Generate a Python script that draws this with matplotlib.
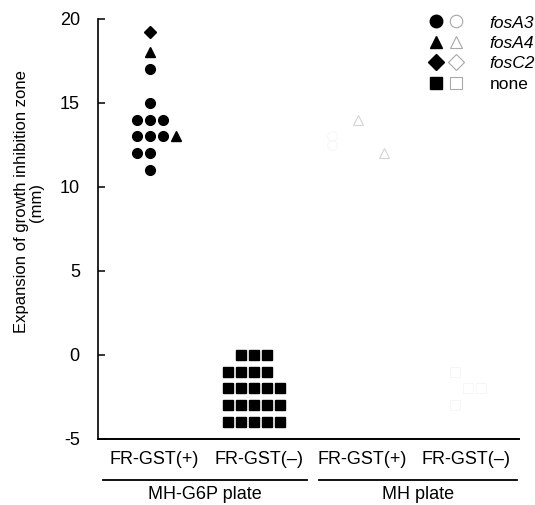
import matplotlib
matplotlib.use("Agg")
import matplotlib.pyplot as plt
from matplotlib.lines import Line2D
from matplotlib.legend_handler import HandlerTuple
import matplotlib.transforms as mtransforms

plt.rcParams['font.family'] = ['Liberation Sans', 'DejaVu Sans']
plt.rcParams['axes.unicode_minus'] = False

# group centres on the x axis
groups = [1, 2, 3, 4]
group_labels = ['FR-GST(+)', 'FR-GST(\u2013)', 'FR-GST(+)', 'FR-GST(\u2013)']
plate_labels = ['MH-G6P plate', 'MH plate']

# MH-G6P plate, FR-GST(+)  (filled markers)
g6p_pos_fosA3_y = [17, 15, 14, 14, 14, 13, 13, 13, 12, 12, 11]
g6p_pos_fosA3_col = [0, 0, -1, 0, 1, -1, 0, 1, -1, 0, 0]
g6p_pos_fosA4_y = [18, 13]
g6p_pos_fosA4_col = [0, 2]
g6p_pos_fosC2_y = [19.2]
g6p_pos_fosC2_col = [0]

# MH-G6P plate, FR-GST(-)
g6p_neg_none_y = [0, 0, 0, -1, -1, -1, -1,
                  -2, -2, -2, -2, -2, -3, -3, -3, -3, -3, -4, -4, -4, -4, -4]
g6p_neg_none_col = [-1, 0, 1, -2, -1, 0, 1,
                    -2, -1, 0, 1, 2, -2, -1, 0, 1, 2, -2, -1, 0, 1, 2]

# MH plate (open markers, faded in the scan)
mh_pos_fosA4_y = [14, 12]
mh_pos_fosA4_col = [0, 2]
mh_pos_fosA3_y = [13, 12.5]
mh_pos_fosA3_col = [-2, -2]
mh_neg_none_y = [-1, -2, -2, -3]
mh_neg_none_col = [-0.5, 0.5, 1.5, -0.5]

step = 0.125


def xs(g, cols):
    return [groups[g] + c * step for c in cols]


fig = plt.figure(figsize=(5.35, 5.05), dpi=100)
ax = fig.add_axes([0.183, 0.131, 0.787, 0.832])

ms = 7
ax.plot(xs(0, g6p_pos_fosA3_col), g6p_pos_fosA3_y, 'o', color='black', ms=ms, ls='none')
ax.plot(xs(0, g6p_pos_fosA4_col), g6p_pos_fosA4_y, '^', color='black', ms=ms + 0.5, ls='none')
ax.plot(xs(0, g6p_pos_fosC2_col), g6p_pos_fosC2_y, 'D', color='black', ms=ms - 0.5, ls='none')
ax.plot(xs(1, g6p_neg_none_col), g6p_neg_none_y, 's', color='black', ms=ms, ls='none')

ax.plot(xs(2, mh_pos_fosA4_col), mh_pos_fosA4_y, '^', mfc='none', mec='#d4d4d4',
        mew=0.8, ms=ms + 0.5, ls='none')
ax.plot(xs(2, mh_pos_fosA3_col), mh_pos_fosA3_y, 'o', mfc='none', mec='#f5f5f5',
        mew=0.6, ms=ms, ls='none')
ax.plot(xs(3, mh_neg_none_col), mh_neg_none_y, 's', mfc='none', mec='#f5f5f5',
        mew=0.6, ms=ms, ls='none')

ax.set_xlim(0.5, 4.55)
ax.set_ylim(-5, 20)
ax.set_yticks([-5, 0, 5, 10, 15, 20])
ax.set_xticks([g + 0.045 for g in groups])
ax.set_xticklabels(group_labels, fontsize=13)
ax.tick_params(axis='x', length=0, pad=9)
ax.tick_params(axis='y', direction='in', length=5, width=1.1, pad=13, labelsize=13)
for side in ['top', 'right']:
    ax.spines[side].set_visible(False)
ax.spines['left'].set_linewidth(1.2)
ax.spines['bottom'].set_linewidth(1.4)

# plate brackets under the group labels
trans = mtransforms.blended_transform_factory(ax.transData, ax.transAxes)
for (x0, x1), lab in zip([(0.55, 2.51), (2.63, 4.53)], plate_labels):
    ax.plot([x0, x1], [-0.098, -0.098], color='black', lw=1.3,
            transform=trans, clip_on=False)
    ax.text((x0 + x1) / 2, -0.133, lab, transform=trans, ha='center',
            va='center', fontsize=13)

fig.text(0.054, 0.6, 'Expansion of growth inhibition zone\n(mm)', rotation=90,
         ha='center', va='center', multialignment='center', fontsize=12,
         linespacing=1.0)

# legend: filled and open marker pairs
lg = 9
handles = []
for m in ['o', '^', 'D', 's']:
    s = lg - 1 if m == 'D' else lg
    filled = Line2D([], [], marker=m, color='black', ms=s, ls='none')
    empty = Line2D([], [], marker=m, mfc='white', mec='#a8a8a8', mew=0.8, ms=s, ls='none')
    handles.append((filled, empty))
leg = ax.legend(handles, ['fosA3', 'fosA4', 'fosC2', 'none'],
                handler_map={tuple: HandlerTuple(ndivide=None, pad=0.1)},
                loc='upper right', bbox_to_anchor=(1.075, 1.045), frameon=False,
                fontsize=12.5, handlelength=2.2, handletextpad=1.4, labelspacing=0.3)
for t in leg.get_texts()[:3]:
    t.set_style('italic')

fig.savefig('out.png', dpi=100)
